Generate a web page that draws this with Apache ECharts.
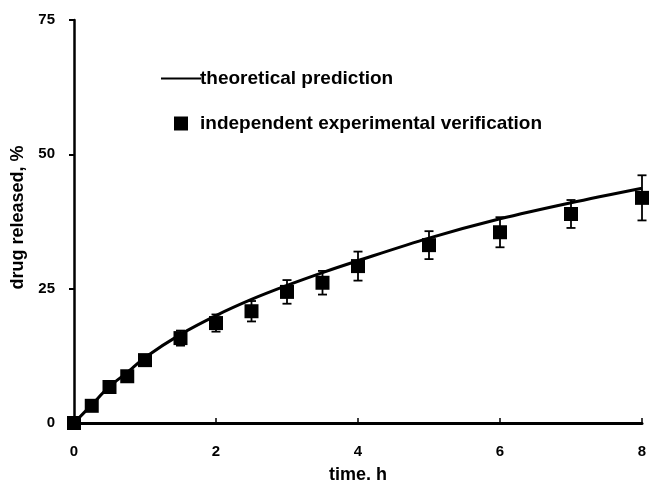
<!DOCTYPE html>
<html><head><meta charset="utf-8">
<script src="https://cdn.jsdelivr.net/npm/echarts@6/dist/echarts.min.js"></script>
<style>html,body{margin:0;padding:0;background:#fff}#c{width:650px;height:482px}</style>
</head><body><div id="c"></div>
<script>
var timeH = [0, 0.25, 0.5, 0.75, 1, 1.5, 2, 2.5, 3, 3.5, 4, 5, 6, 7, 8];
var theoretical = [0, 3.4, 6.8, 9.4, 12.2, 16.5, 20.0, 23.0, 25.6, 28.0, 30.2, 34.4, 38.0, 41.0, 43.7];
var experimental = [0, 3.2, 6.7, 8.7, 11.7, 15.8, 18.6, 20.8, 24.4, 26.1, 29.2, 33.1, 35.5, 38.9, 41.9];
var expError = [0, 0.4, 0.5, 0.5, 0.6, 1.4, 1.6, 1.9, 2.2, 2.2, 2.7, 2.6, 2.8, 2.6, 4.2];
var yTicks = [0, 25, 50, 75];
var xTicks = [0, 2, 4, 6, 8];

var FONT = 'Liberation Sans';
var chart = echarts.init(document.getElementById('c'));
var lineData = timeH.map(function (t, i) { return [t, theoretical[i]]; });
var expData = timeH.map(function (t, i) { return [t, experimental[i]]; });
var errData = timeH.map(function (t, i) { return [t, experimental[i] - expError[i], experimental[i] + expError[i]]; });

chart.setOption({
  animation: false,
  backgroundColor: '#fff',
  grid: { left: 74, right: 8, top: 20, bottom: 59, containLabel: false, outerBoundsMode: 'none' },
  legend: [
    {
      data: ['theoretical prediction'], left: 156, top: 64, orient: 'vertical',
      icon: 'rect', itemWidth: 40, itemHeight: 2, itemGap: 0,
      textStyle: { fontFamily: FONT, fontWeight: 'bold', fontSize: 19, color: '#000', padding: [0, 0, 0, -6] }
    },
    {
      data: ['independent experimental verification'], left: 169, top: 109, orient: 'vertical',
      icon: 'rect', itemWidth: 14, itemHeight: 14,
      itemStyle: { opacity: 1 },
      textStyle: { fontFamily: FONT, fontWeight: 'bold', fontSize: 19, color: '#000', padding: [0, 0, 0, 7] }
    }
  ],
  xAxis: {
    type: 'value', min: 0, max: 8, interval: 2,
    name: 'time. h', nameLocation: 'middle', nameGap: 43,
    nameTextStyle: { fontFamily: FONT, fontWeight: 'bold', fontSize: 18, color: '#000' },
    axisLine: { show: true, onZero: false, lineStyle: { color: '#000', width: 3 } },
    axisTick: { show: true, inside: true, length: 5, lineStyle: { color: '#000', width: 1.5 } },
    axisLabel: { fontFamily: FONT, fontWeight: 'bold', fontSize: 15, color: '#000', margin: 21,
      formatter: function (v) { return xTicks.indexOf(v) >= 0 ? String(v) : ''; } },
    splitLine: { show: false }
  },
  yAxis: {
    type: 'value', min: 0, max: 75, interval: 25,
    name: 'drug released, %', nameLocation: 'middle', nameGap: 45, nameRotate: 90,
    nameTextStyle: { fontFamily: FONT, fontWeight: 'bold', fontSize: 18, color: '#000', padding: [0, 0, 0, 8] },
    axisLine: { show: true, lineStyle: { color: '#000', width: 2.5 } },
    axisTick: { show: true, inside: false, length: 5, lineStyle: { color: '#000', width: 2 } },
    axisLabel: { fontFamily: FONT, fontWeight: 'bold', fontSize: 15, color: '#000', margin: 19,
      formatter: function (v) { return yTicks.indexOf(v) >= 0 ? String(v) : ''; } },
    splitLine: { show: false }
  },
  series: [
    {
      name: 'theoretical prediction', type: 'line', data: lineData, smooth: 0.3,
      symbol: 'none', clip: false,
      lineStyle: { color: '#000', width: 3 }, itemStyle: { color: '#000' }, z: 3
    },
    {
      name: 'independent experimental verification', type: 'custom', data: errData, clip: false,
      renderItem: function (params, api) {
        var x = api.value(0), lo = api.value(1), hi = api.value(2);
        var p1 = api.coord([x, lo]), p2 = api.coord([x, hi]);
        var cap = 4.5;
        var st = { stroke: '#000', lineWidth: 1.8 };
        return { type: 'group', children: [
          { type: 'line', shape: { x1: p1[0], y1: p1[1], x2: p2[0], y2: p2[1] }, style: st },
          { type: 'line', shape: { x1: p1[0] - cap, y1: p1[1], x2: p1[0] + cap, y2: p1[1] }, style: st },
          { type: 'line', shape: { x1: p2[0] - cap, y1: p2[1], x2: p2[0] + cap, y2: p2[1] }, style: st }
        ] };
      },
      encode: { x: 0, y: [1, 2] }, itemStyle: { color: '#000' }, z: 2
    },
    {
      name: 'independent experimental verification', type: 'scatter', data: expData,
      symbol: 'rect', symbolSize: 14, clip: false,
      itemStyle: { color: '#000', opacity: 1 }, z: 4
    }
  ]
});
</script></body></html>
